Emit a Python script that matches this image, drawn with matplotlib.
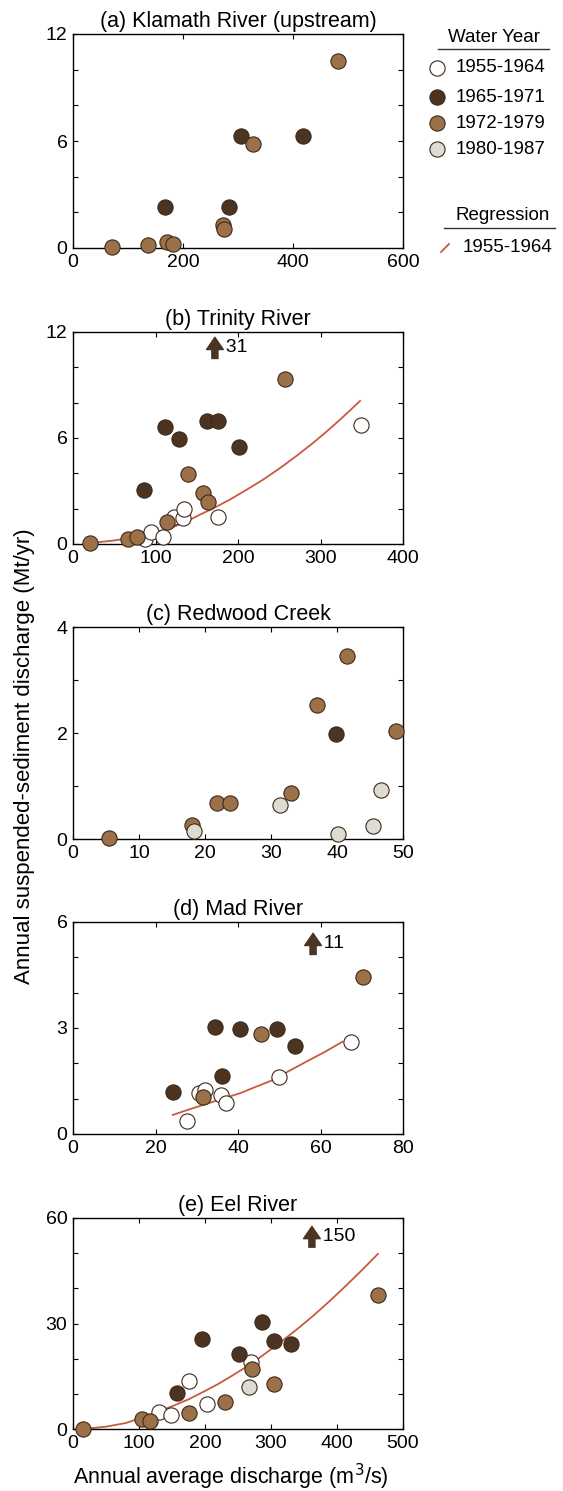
import matplotlib
matplotlib.use('Agg')
import matplotlib.pyplot as plt

plt.rcParams['font.family'] = ['Liberation Sans', 'DejaVu Sans']

# --- water-year groups ---
groups = ['1955-1964', '1965-1971', '1972-1979', '1980-1987']
face = {'1955-1964': '#ffffff', '1965-1971': '#4b3421',
        '1972-1979': '#9c7149', '1980-1987': '#dedbd2'}
edge = '#3d2a1a'
reg_color = '#c85a3c'

# (a) Klamath River (upstream)
a_dark_x = [167, 284, 305, 418]
a_dark_y = [2.3, 2.3, 6.3, 6.29]
a_brown_x = [71, 137, 170, 182, 273, 274, 327, 482]
a_brown_y = [0.05, 0.17, 0.34, 0.22, 1.29, 1.04, 5.84, 10.47]

# (b) Trinity River
b_white_x = [87, 95, 109, 123, 133, 135, 176, 349]
b_white_y = [0.26, 0.66, 0.38, 1.54, 1.47, 2.0, 1.53, 6.76]
b_dark_x = [86, 112, 128, 163, 176, 201]
b_dark_y = [3.07, 6.6, 5.93, 6.97, 6.95, 5.48]
b_brown_x = [21, 67, 77, 114, 139, 158, 164, 257]
b_brown_y = [0.04, 0.26, 0.4, 1.22, 3.97, 2.88, 2.35, 9.34]
b_reg_x = [24, 50, 81, 100, 121, 142, 156, 170, 190, 210, 230, 251, 271,
           291, 308, 324, 338, 348]
b_reg_y = [0.07, 0.2, 0.44, 0.66, 0.95, 1.38, 1.71, 2.02, 2.51, 3.06, 3.63,
           4.3, 4.99, 5.72, 6.39, 7.05, 7.66, 8.1]

# (c) Redwood Creek
c_dark_x = [39.9]
c_dark_y = [1.98]
c_brown_x = [5.4, 18.0, 21.8, 23.8, 33.1, 36.9, 41.5, 48.9]
c_brown_y = [0.02, 0.26, 0.68, 0.68, 0.86, 2.52, 3.45, 2.03]
c_light_x = [18.3, 31.3, 40.2, 45.4, 46.7]
c_light_y = [0.16, 0.64, 0.09, 0.25, 0.92]

# (d) Mad River
d_white_x = [27.7, 30.5, 32.1, 35.9, 37.1, 49.9, 67.3]
d_white_y = [0.36, 1.16, 1.25, 1.11, 0.89, 1.62, 2.61]
d_dark_x = [24.2, 34.5, 36.0, 40.5, 49.5, 53.9]
d_dark_y = [1.19, 3.02, 1.64, 2.97, 2.97, 2.5]
d_brown_x = [31.5, 45.5, 70.3]
d_brown_y = [1.05, 2.84, 4.43]
d_reg_x = [24.2, 28, 32.3, 36, 40.4, 44, 48.5, 52, 56.6, 61, 65.3]
d_reg_y = [0.54, 0.69, 0.85, 0.99, 1.15, 1.32, 1.53, 1.76, 2.05, 2.32, 2.61]

# (e) Eel River
e_white_x = [130, 148, 176, 203, 269]
e_white_y = [4.9, 4.0, 13.6, 7.2, 19.1]
e_dark_x = [158, 195, 251, 286, 304, 330]
e_dark_y = [10.2, 25.6, 21.3, 30.3, 24.9, 24.3]
e_brown_x = [15, 104, 117, 176, 230, 271, 305, 462]
e_brown_y = [0, 2.9, 2.2, 4.6, 7.6, 17.0, 12.9, 38.2]
e_light_x = [267]
e_light_y = [11.9]
e_reg_x = [15, 50, 80, 101, 120, 152, 177, 202, 220, 238, 269, 288, 313,
           339, 364, 389, 415, 440, 462]
e_reg_y = [0, 0.66, 1.7, 3.0, 4.3, 6.6, 8.6, 11.0, 12.8, 14.8, 18.4, 21.0,
           24.5, 28.3, 32.2, 36.4, 41.0, 45.6, 49.8]

# off-scale values: (x, arrow bottom, arrow top, label)
b_off = (172, 10.5, 11.7, '31')
d_off = (58.2, 5.08, 5.68, '11')
e_off = (362, 51.7, 57.6, '150')

W, H = 563, 1491
fig = plt.figure(figsize=(W / 100, H / 100), dpi=100)


def make_ax(top, bottom):
    ax = fig.add_axes([73 / W, 1 - bottom / H, 330 / W, (bottom - top) / H])
    for s in ax.spines.values():
        s.set_linewidth(1.0)
    ax.tick_params(direction='in', top=True, right=True, length=3.5,
                   width=0.8, labelsize=14, pad=4)
    return ax


def set_ticks(ax, xmax, xstep, ymax, ystep, ylab_step):
    xt = list(range(0, xmax + 1, xstep))
    ax.set_xticks(xt)
    ax.set_xticklabels([str(v) for v in xt])
    yt = list(range(0, ymax + 1, ystep))
    ax.set_yticks(yt)
    ax.set_yticklabels([str(v) if v % ylab_step == 0 else '' for v in yt])
    ax.set_xlim(0, xmax)
    ax.set_ylim(0, ymax)


def dots(ax, x, y, grp):
    ax.scatter(x, y, s=120, facecolor=face[grp], edgecolor=edge,
               linewidth=0.8, zorder=3, clip_on=False)


def offscale(ax, off):
    x, y0, y1, lab = off
    ax.annotate('', xy=(x, y1), xytext=(x, y0),
                arrowprops=dict(arrowstyle='simple,head_length=0.8,head_width=1.1,tail_width=0.4',
                                mutation_scale=11, color=face['1965-1971'],
                                shrinkA=0, shrinkB=0))
    ax.text(x, (y0 + y1) / 2, '  ' + lab, fontsize=14, va='center', ha='left')


# (a)
ax = make_ax(34, 248)
set_ticks(ax, 600, 200, 12, 2, 6)
dots(ax, a_dark_x, a_dark_y, '1965-1971')
dots(ax, a_brown_x, a_brown_y, '1972-1979')
ax.set_title('(a) Klamath River (upstream)', fontsize=15.5, pad=5)

# (b)
ax = make_ax(332, 544)
set_ticks(ax, 400, 100, 12, 2, 6)
ax.plot(b_reg_x, b_reg_y, color=reg_color, lw=1.3, zorder=2)
dots(ax, b_white_x, b_white_y, '1955-1964')
dots(ax, b_dark_x, b_dark_y, '1965-1971')
dots(ax, b_brown_x, b_brown_y, '1972-1979')
offscale(ax, b_off)
ax.set_title('(b) Trinity River', fontsize=15.5, pad=5)

# (c)
ax = make_ax(627, 839)
set_ticks(ax, 50, 10, 4, 1, 2)
dots(ax, c_dark_x, c_dark_y, '1965-1971')
dots(ax, c_brown_x, c_brown_y, '1972-1979')
dots(ax, c_light_x, c_light_y, '1980-1987')
ax.set_title('(c) Redwood Creek', fontsize=15.5, pad=5)

# (d)
ax = make_ax(922, 1134)
set_ticks(ax, 80, 20, 6, 1, 3)
ax.plot(d_reg_x, d_reg_y, color=reg_color, lw=1.3, zorder=2)
dots(ax, d_white_x, d_white_y, '1955-1964')
dots(ax, d_dark_x, d_dark_y, '1965-1971')
dots(ax, d_brown_x, d_brown_y, '1972-1979')
offscale(ax, d_off)
ax.set_title('(d) Mad River', fontsize=15.5, pad=5)

# (e)
ax = make_ax(1218, 1429)
set_ticks(ax, 500, 100, 60, 10, 30)
ax.plot(e_reg_x, e_reg_y, color=reg_color, lw=1.3, zorder=2)
dots(ax, e_white_x, e_white_y, '1955-1964')
dots(ax, e_dark_x, e_dark_y, '1965-1971')
dots(ax, e_brown_x, e_brown_y, '1972-1979')
dots(ax, e_light_x, e_light_y, '1980-1987')
offscale(ax, e_off)
ax.set_title('(e) Eel River', fontsize=15.5, pad=5)

fig.text(25 / W, 1 - 756 / H, 'Annual suspended-sediment discharge (Mt/yr)',
         rotation=90, ha='center', va='center', fontsize=16)
fig.text(231 / W, 1 - 1477 / H, 'Annual average discharge (m$^3$/s)',
         ha='center', va='center', fontsize=15.5)

# legend drawn in its own axes, pixel-like coordinates
lax = fig.add_axes([420 / W, 1 - 280 / H, 143 / W, 280 / H])
lax.set_xlim(0, 143)
lax.set_ylim(280, 0)
lax.axis('off')
lax.text(74, 37, 'Water Year', ha='center', va='center', fontsize=13.5)
lax.plot([18, 129], [49, 49], color='#333333', lw=1.0)
for i, g in enumerate(groups):
    yy = [68, 97, 123, 149][i]
    lax.scatter([17], [yy], s=120, facecolor=face[g], edgecolor=edge, linewidth=0.8)
    lax.text(36, yy, g, ha='left', va='center', fontsize=13.5)
lax.text(83, 215, 'Regression', ha='center', va='center', fontsize=13.5)
lax.plot([24, 135], [228, 228], color='#333333', lw=1.0)
lax.plot([21, 29], [252, 244], color=reg_color, lw=1.3)
lax.text(43, 247, '1955-1964', ha='left', va='center', fontsize=13.5)

fig.savefig('out.png', dpi=100)
